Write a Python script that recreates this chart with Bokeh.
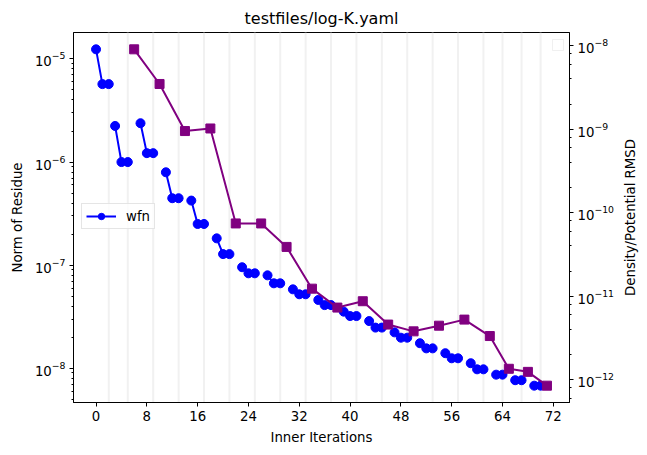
import math
from bokeh.plotting import figure
from bokeh.models import (Range1d, LogScale, LogAxis, FixedTicker, Legend,
                          LegendItem, Span, BoxAnnotation, Label)
from bokeh.embed import file_html
from bokeh.resources import INLINE

# ---- data ----
wfn_iter = [0, 1, 2, 3, 4, 5, 7, 8, 9, 11, 12, 13, 15, 16, 17, 19, 20, 21,
            23, 24, 25, 27, 28, 29, 31, 32, 33, 35, 36, 37, 39, 40, 41,
            43, 44, 45, 47, 48, 49, 51, 52, 53, 55, 56, 57, 59, 60, 61,
            63, 64, 66, 67, 69, 70]
wfn_norm = [1.24e-5, 5.7e-6, 5.7e-6, 2.24e-6, 1.0e-6, 1.0e-6,
            2.38e-6, 1.22e-6, 1.22e-6, 7.96e-7, 4.46e-7, 4.46e-7,
            4.23e-7, 2.51e-7, 2.51e-7, 1.82e-7, 1.28e-7, 1.28e-7,
            9.55e-8, 8.34e-8, 8.34e-8, 7.97e-8, 6.67e-8, 6.67e-8,
            5.83e-8, 5.22e-8, 5.22e-8, 4.6e-8, 4.1e-8, 4.1e-8,
            3.54e-8, 3.21e-8, 3.21e-8, 2.87e-8, 2.48e-8, 2.48e-8,
            2.23e-8, 1.98e-8, 1.98e-8, 1.75e-8, 1.56e-8, 1.56e-8,
            1.40e-8, 1.25e-8, 1.25e-8, 1.12e-8, 9.77e-9, 9.77e-9,
            8.67e-9, 8.67e-9, 7.66e-9, 7.66e-9, 6.78e-9, 6.78e-9]
wfn_group_sizes = [3] * 16 + [2] * 3

rmsd_iter = [6, 10, 14, 18, 22, 26, 30, 34, 38, 42, 46, 50, 54, 58, 62, 65, 68, 71]
rmsd_vals = [9.05e-9, 3.48e-9, 9.5e-10, 1.02e-9, 7.43e-11, 7.43e-11,
             3.89e-11, 1.23e-11, 7.3e-12, 8.7e-12, 4.57e-12, 3.79e-12,
             4.43e-12, 5.24e-12, 3.33e-12, 1.35e-12, 1.24e-12, 8.47e-13]

x_ticks = [0, 8, 16, 24, 32, 40, 48, 56, 64, 72]

title_text = "testfiles/log-K.yaml"
x_label = "Inner Iterations"
y_label = "Norm of Residue"
y2_label = "Density/Potential RMSD"
FONT = "DejaVu Sans"

# ---- ranges with 5% margins (matplotlib-like) ----
xmin = min(min(wfn_iter), min(rmsd_iter))
xmax = max(max(wfn_iter), max(rmsd_iter))
xm = 0.05 * (xmax - xmin)
xlo, xhi = xmin - xm, xmax + xm


def log_range(vals):
    lo, hi = math.log10(min(vals)), math.log10(max(vals))
    m = 0.05 * (hi - lo)
    return 10 ** (lo - m), 10 ** (hi + m)


ylo, yhi = log_range(wfn_norm)
rlo, rhi = log_range(rmsd_vals)

W, H = 647, 455
BL, BR, BT, BB = 73, 78, 32, 53
p = figure(width=W, height=H, x_range=Range1d(xlo, xhi),
           y_range=Range1d(ylo, yhi), y_axis_type="log",
           output_backend="svg", toolbar_location=None, title=title_text,
           min_border_left=BL, min_border_right=BR, min_border_top=BT,
           min_border_bottom=BB)
p.background_fill_color = "white"
p.border_fill_color = "white"
p.outline_line_color = "black"
p.outline_line_width = 1
p.xgrid.visible = False
p.ygrid.visible = False

p.title.text_font = FONT
p.title.text_font_size = "16px"
p.title.text_font_style = "normal"
p.title.align = "center"
p.title.text_color = "black"

p.extra_y_ranges = {"rmsd": Range1d(rlo, rhi)}
p.extra_y_scales = {"rmsd": LogScale()}

# vertical separators at the end of each wfn group
idx = 0
groups_x, groups_y = [], []
for n in wfn_group_sizes:
    gx = wfn_iter[idx:idx + n]
    gy = wfn_norm[idx:idx + n]
    groups_x.append(gx)
    groups_y.append(gy)
    idx += n
    p.add_layout(Span(location=gx[-1], dimension="height",
                      line_color="#f1f1f1", line_width=2, level="underlay"))

ml = p.multi_line(groups_x, groups_y, line_color="blue", line_width=2)
sc = p.scatter(wfn_iter, wfn_norm, marker="circle", size=9,
               fill_color="blue", line_color="blue")

p.line(rmsd_iter, rmsd_vals, line_color="purple", line_width=2,
       y_range_name="rmsd")
p.scatter(rmsd_iter, rmsd_vals, marker="square", size=9,
          fill_color="purple", line_color="purple", y_range_name="rmsd")

# axes
xa = p.xaxis[0]
xa.ticker = FixedTicker(ticks=x_ticks)
xa.axis_label = x_label

ya = p.yaxis[0]
ya.axis_label = y_label

ra = LogAxis(y_range_name="rmsd")
p.add_layout(ra, "right")

for ax in (xa, ya, ra):
    ax.axis_label_text_font = FONT
    ax.axis_label_text_font_size = "13.3px"
    ax.axis_label_text_font_style = "normal"
    ax.axis_label_text_color = "black"
    ax.major_label_text_font = FONT
    ax.major_label_text_font_size = "13.3px"
    ax.major_label_text_color = "black"
    ax.axis_line_color = "black"
    ax.major_tick_line_color = "black"
    ax.minor_tick_line_color = "black"
    ax.major_tick_in = 0
    ax.major_tick_out = 4
    ax.minor_tick_in = 0
    ax.minor_tick_out = 2
    ax.major_label_standoff = 4
    ax.axis_label_standoff = 6
xa.minor_tick_line_color = None
ya.axis_label_standoff = 7

# right axis label (reads bottom-to-top, as in matplotlib), placed in the
# right-hand side panel; x converted from the wanted pixel column
frame_w = W - BL - BR
label_px = 630 - BL
label_x = xlo + label_px / frame_w * (xhi - xlo)
label_y = 10 ** ((math.log10(ylo) + math.log10(yhi)) / 2)
p.add_layout(Label(x=label_x, y=label_y, text=y2_label, angle=math.pi / 2,
                   text_align="center", text_baseline="middle",
                   text_font=FONT, text_font_size="13.3px",
                   text_color="black"), "right")

legend = Legend(items=[LegendItem(label="wfn", renderers=[ml, sc])],
                location=(8, 173))
legend.label_text_font = FONT
legend.label_text_font_size = "13.3px"
legend.label_text_color = "black"
legend.glyph_width = 30
legend.glyph_height = 16
legend.label_height = 16
legend.label_standoff = 10
legend.padding = 4
legend.spacing = 0
legend.margin = 0
legend.border_line_color = "#cccccc"
legend.border_line_width = 1
legend.background_fill_alpha = 0.8
p.add_layout(legend, "center")

# empty legend box of the right-hand axis
p.add_layout(BoxAnnotation(left=479, right=490, bottom=352, top=363,
                           left_units="screen", right_units="screen",
                           bottom_units="screen", top_units="screen",
                           fill_color="white", fill_alpha=0.8,
                           line_color="#cccccc", line_width=1))

open("out.html", "w").write(file_html(p, INLINE))
